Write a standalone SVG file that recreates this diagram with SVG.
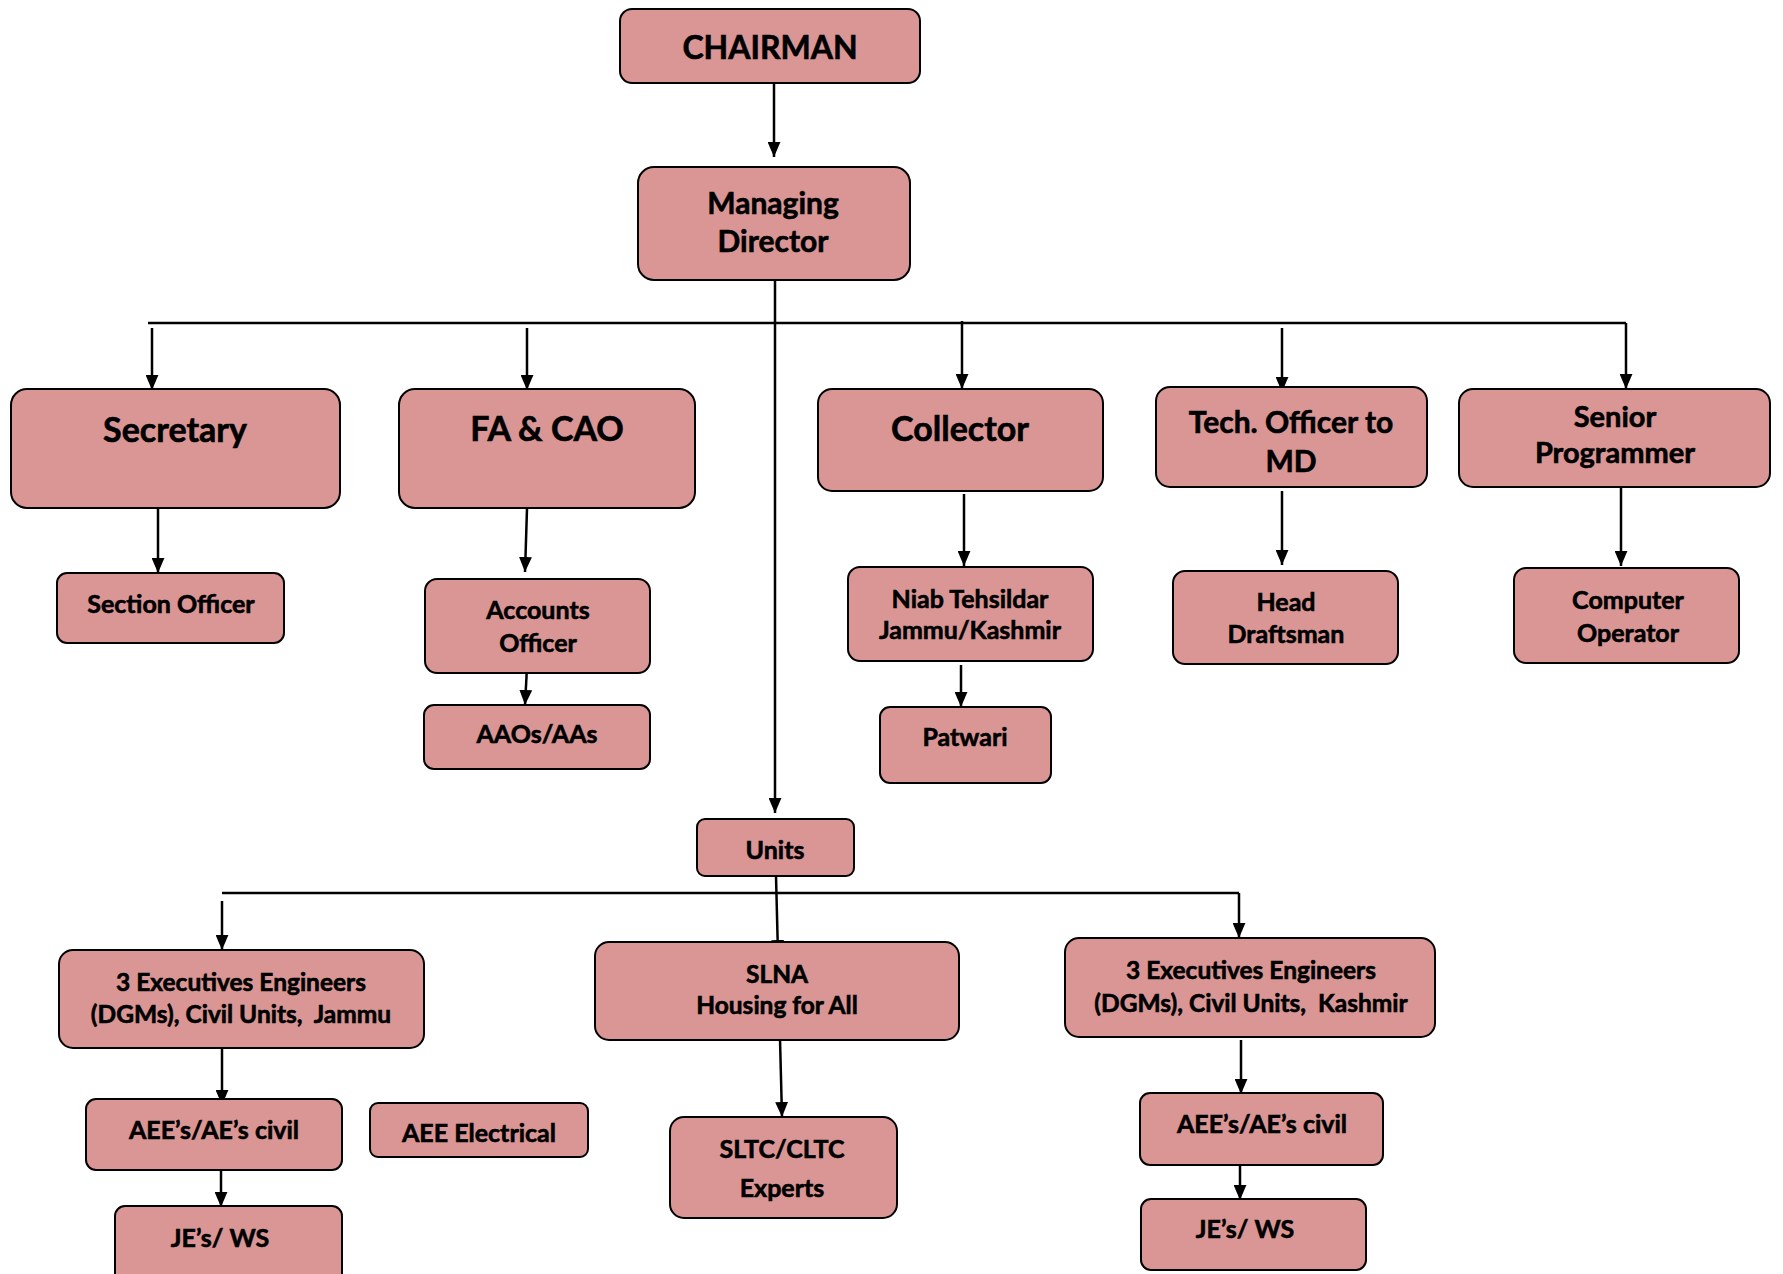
<svg xmlns="http://www.w3.org/2000/svg" width="1783" height="1274" viewBox="0 0 1783 1274">
<defs>
<marker id="ah" viewBox="0 0 14 12" refX="14" refY="6" markerWidth="15" markerHeight="13" markerUnits="userSpaceOnUse" orient="auto">
<path d="M0,0 L14,6 L0,12 z" fill="#000"/>
</marker>
<style>
.b{fill:#D99694;stroke:#000;stroke-width:2}
.t{font-family:Lato,"Liberation Sans",sans-serif;font-weight:bold;fill:#000;stroke:#000;stroke-width:0.6;text-anchor:middle;white-space:pre}
.xl{font-size:34px}
.l{font-size:30px}
.m{font-size:25px}
.s{font-size:24.5px}
.c{fill:none;stroke:#000;stroke-width:2.5}
.a{marker-end:url(#ah)}
</style>
</defs>
<rect width="1783" height="1274" fill="#fff"/>
<g id="connectors">
<path class="c a" d="M774,83 V157"/>
<path class="c" d="M148,323 H1626"/>
<path class="c a" d="M1626,323 V389"/>
<path class="c a" d="M775,273 V813"/>
<path class="c a" d="M152,328 V390"/>
<path class="c a" d="M527,328 V390"/>
<path class="c a" d="M962,321 V389"/>
<path class="c a" d="M1282,328 V392"/>
<path class="c a" d="M158,505 V573"/>
<path class="c a" d="M527,509 L525,572"/>
<path class="c a" d="M527,667 L525,705"/>
<path class="c a" d="M964,494 V566"/>
<path class="c a" d="M961,665 V707"/>
<path class="c a" d="M1282,491 V565"/>
<path class="c a" d="M1621,483 V566"/>
<path class="c" d="M222,893 H1239"/>
<path class="c a" d="M1239,893 V938"/>
<path class="c a" d="M222,901 V950"/>
<path class="c a" d="M776,876 L778,955"/>
<path class="c a" d="M222,1049 V1105"/>
<path class="c a" d="M221,1170 V1207"/>
<path class="c a" d="M780,1039 L782,1117"/>
<path class="c a" d="M1241,1040 V1094"/>
<path class="c a" d="M1240,1166 V1200"/>
</g>
<g id="chairman"><rect class="b" x="620" y="9" width="300" height="74" rx="12"/><text class="t xl" x="770" y="59" style="font-size:32px">CHAIRMAN</text></g>
<g id="md"><rect class="b" x="638" y="167" width="272" height="113" rx="16"/><text class="t l" x="773" y="214">Managing</text><text class="t l" x="773" y="252">Director</text></g>
<g id="secretary"><rect class="b" x="11" y="389" width="329" height="119" rx="16"/><text class="t xl" x="175" y="442">Secretary</text></g>
<g id="facao"><rect class="b" x="399" y="389" width="296" height="119" rx="16"/><text class="t xl" x="547" y="441">FA &amp; CAO</text></g>
<g id="collector"><rect class="b" x="818" y="389" width="285" height="102" rx="14"/><text class="t xl" x="960" y="441">Collector</text></g>
<g id="tech"><rect class="b" x="1156" y="387" width="271" height="100" rx="14"/><text class="t l" x="1291" y="433">Tech. Officer to</text><text class="t l" x="1291" y="472">MD</text></g>
<g id="senior"><rect class="b" x="1459" y="389" width="311" height="98" rx="14"/><text class="t l" x="1615" y="427" style="font-size:29px">Senior</text><text class="t l" x="1615" y="463" style="font-size:29px">Programmer</text></g>
<g id="section"><rect class="b" x="57" y="573" width="227" height="70" rx="10"/><text class="t m" x="171" y="613">Section Officer</text></g>
<g id="accounts"><rect class="b" x="425" y="579" width="225" height="94" rx="12"/><text class="t m" x="538" y="619">Accounts</text><text class="t m" x="538" y="652">Officer</text></g>
<g id="aaos"><rect class="b" x="424" y="705" width="226" height="64" rx="10"/><text class="t m" x="537" y="743">AAOs/AAs</text></g>
<g id="niab"><rect class="b" x="848" y="567" width="245" height="94" rx="12"/><text class="t m" x="970" y="608">Niab Tehsildar</text><text class="t m" x="970" y="639">Jammu/Kashmir</text></g>
<g id="patwari"><rect class="b" x="880" y="707" width="171" height="76" rx="10"/><text class="t m" x="965" y="746">Patwari</text></g>
<g id="head"><rect class="b" x="1173" y="571" width="225" height="93" rx="12"/><text class="t m" x="1286" y="611">Head</text><text class="t m" x="1286" y="643">Draftsman</text></g>
<g id="computer"><rect class="b" x="1514" y="568" width="225" height="95" rx="12"/><text class="t m" x="1628" y="609">Computer</text><text class="t m" x="1628" y="642">Operator</text></g>
<g id="units"><rect class="b" x="697" y="819" width="157" height="57" rx="8"/><text class="t m" x="775" y="859">Units</text></g>
<g id="eejammu"><rect class="b" x="59" y="950" width="365" height="98" rx="14"/><text class="t s" x="241" y="991">3 Executives Engineers</text><text class="t s" x="241" y="1023" xml:space="preserve">(DGMs), Civil Units,  Jammu</text></g>
<g id="slna"><rect class="b" x="595" y="942" width="364" height="98" rx="14"/><text class="t s" x="777" y="983">SLNA</text><text class="t s" x="777" y="1014">Housing for All</text></g>
<g id="eekashmir"><rect class="b" x="1065" y="938" width="370" height="99" rx="14"/><text class="t s" x="1251" y="979">3 Executives Engineers</text><text class="t s" x="1251" y="1012" xml:space="preserve">(DGMs), Civil Units,  Kashmir</text></g>
<g id="aeejammu"><rect class="b" x="86" y="1099" width="256" height="71" rx="10"/><text class="t m" x="214" y="1139">AEE’s/AE’s civil</text></g>
<g id="aeeelec"><rect class="b" x="370" y="1103" width="218" height="54" rx="8"/><text class="t m" x="479" y="1142">AEE Electrical</text></g>
<g id="jejammu"><rect class="b" x="115" y="1206" width="227" height="80" rx="10"/><text class="t m" x="220" y="1247">JE’s/ WS</text></g>
<g id="sltc"><rect class="b" x="670" y="1117" width="227" height="101" rx="14"/><text class="t m" x="782" y="1158">SLTC/CLTC</text><text class="t m" x="782" y="1197">Experts</text></g>
<g id="aeekashmir"><rect class="b" x="1140" y="1093" width="243" height="72" rx="10"/><text class="t m" x="1262" y="1133">AEE’s/AE’s civil</text></g>
<g id="jekashmir"><rect class="b" x="1141" y="1199" width="225" height="71" rx="10"/><text class="t m" x="1245" y="1238">JE’s/ WS</text></g>
</svg>
